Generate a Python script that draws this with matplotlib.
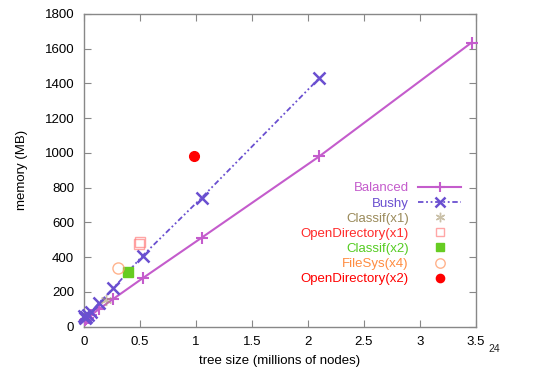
import matplotlib
matplotlib.use("Agg")
import matplotlib.pyplot as plt

plt.rcParams['font.family'] = ['Liberation Sans', 'DejaVu Sans']

# data (tree size in millions of nodes, memory in MB)
bal_x = [0.0082, 0.0164, 0.0328, 0.0655, 0.131, 0.262, 0.524, 1.05, 2.1, 3.46]
bal_y = [36, 42, 50, 67, 100, 160, 279, 512, 980, 1635]
bushy_x = [0.0041, 0.0082, 0.0164, 0.0328, 0.0655, 0.131, 0.262, 0.524, 1.05, 2.1]
bushy_y = [60, 48, 55, 65, 86, 135, 221, 409, 742, 1430]
classif1_x = [0.2]
classif1_y = [154]
opendir1_x = [0.49, 0.50]
opendir1_y = [476, 486]
classif2_x = [0.396]
classif2_y = [313]
filesys4_x = [0.306]
filesys4_y = [336]
opendir2_x = [0.98]
opendir2_y = [985]

fig = plt.figure(figsize=(5.46, 3.75), dpi=100)
ax = fig.add_axes([0.1538, 0.1288, 0.718, 0.834])

ax.plot(bal_x, bal_y, color='#c45ccc', lw=1.5, marker='+', ms=8, mew=1.5,
        label='Balanced', clip_on=False, zorder=3)
ax.plot(bushy_x, bushy_y, color='#6a4fd0', lw=1.3, ls=(0, (3, 1.5, 1, 1.5, 1, 1.5)),
        marker='x', ms=8, mew=1.8, label='Bushy', clip_on=False, zorder=4)
ax.plot(classif1_x, classif1_y, ls='none', marker=(6, 2, 0), ms=8, mew=1,
        color='#a89870', alpha=0.6, label='Classif(x1)', zorder=5)
ax.plot(opendir1_x, opendir1_y, ls='none', marker='s', ms=7, mew=1,
        mfc='none', mec='#ff8080', alpha=0.7, label='OpenDirectory(x1)', zorder=5)
ax.plot(classif2_x, classif2_y, ls='none', marker='s', ms=7,
        color='#66cc22', label='Classif(x2)', zorder=5)
ax.plot(filesys4_x, filesys4_y, ls='none', marker='o', ms=8, mew=1,
        mfc='none', mec='#ffa070', alpha=0.8, label='FileSys(x4)', zorder=5)
ax.plot(opendir2_x, opendir2_y, ls='none', marker='o', ms=7,
        color='#ff0000', label='OpenDirectory(x2)', zorder=5)

ax.set_xlim(0, 3.5)
ax.set_ylim(0, 1800)
ax.set_xticks([0, 0.5, 1, 1.5, 2, 2.5, 3, 3.5])
ax.set_xticklabels(['0', '0.5', '1', '1.5', '2', '2.5', '3', '3.5'])
ax.set_yticks(range(0, 1801, 200))
ax.tick_params(direction='in', top=True, right=True, length=5, width=0.8,
               color='#888888', labelsize=9.5, pad=7)
for s in ax.spines.values():
    s.set_color('#888888')
    s.set_linewidth(1)

ax.set_xlabel('tree size (millions of nodes)', fontsize=9.5, labelpad=5)
ax.set_ylabel('memory (MB)', fontsize=9.5, labelpad=12)

text_colors = ['#c45ccc', '#6a4fd0', '#9a8a5a', '#ff2a2a', '#55cc22', '#ff8c40', '#ff0000']
leg = ax.legend(loc='upper right', bbox_to_anchor=(0.963, 0.462), frameon=False,
                markerfirst=False, handlelength=3.3, handletextpad=0.7,
                labelspacing=0.22, borderpad=0, borderaxespad=0, fontsize=9.5,
                markerscale=0.85)
for t, c in zip(leg.get_texts(), text_colors):
    t.set_color(c)

fig.text(0.894, 0.062, '24', fontsize=7.5, color='#222222')

fig.savefig('out.png', dpi=100)
